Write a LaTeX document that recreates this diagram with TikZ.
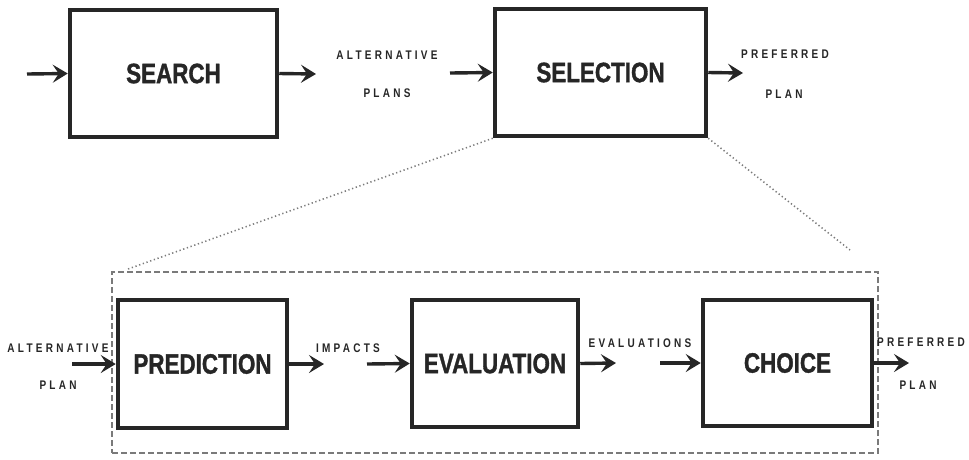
\documentclass[tikz,border=0pt]{standalone}
\usepackage{fontspec}
\usetikzlibrary{arrows.meta}
\newfontfamily\boxfont[FakeStretch=0.8,FakeBold=1.2]{Liberation Sans}
\newfontfamily\labfont[FakeStretch=0.8,LetterSpace=26]{Liberation Sans}
\definecolor{ink}{HTML}{262626}
\definecolor{dotc}{HTML}{7A7A7A}
\begin{document}
\begin{tikzpicture}[x=1pt,y=-1pt,
  blk/.style={draw=ink, line width=4.5pt, inner sep=0pt, text=ink,
    font=\boxfont\bfseries\fontsize{28}{28}\selectfont},
  lab/.style={inner sep=0pt, text=ink, anchor=center,
    font=\labfont\bfseries\fontsize{12.5}{12.5}\selectfont},
  arw/.style={draw=ink, line width=3.4pt, -{Stealth[length=15pt,width=18pt,inset=6pt]}},
  dots/.style={draw=dotc, line width=1.5pt, dash pattern=on 1.3pt off 2.6pt},
  zoomframe/.style={draw=dotc, line width=1.1pt, dash pattern=on 6pt off 3pt, inner sep=0pt}]
\useasboundingbox (0,0) rectangle (969,459);
\fill[white] (0,0) rectangle (969,459);

% top row
\node[blk, minimum width=207pt, minimum height=127pt] (search) at (173.5,73.5) {SEARCH};
\node[blk, minimum width=211pt, minimum height=127pt] (selection) at (600.5,72.5) {SELECTION};

\coordinate (in1) at (27,74);
\coordinate (out1) at (316,74);
\coordinate (in2) at (450,73);
\coordinate (out2) at (743,73);
\draw[arw] (in1) -- (search.west);
\draw[arw] (search.east) -- (out1);
\draw[arw] (in2) -- (selection.west);
\draw[arw] (selection.east) -- (out2);

\node[lab] (altA) at (387,55) {ALTERNATIVE};
\node[lab] (altB) at (387,93) {PLANS};
\node[lab] (prefA) at (785,54) {PREFERRED};
\node[lab] (prefB) at (784,94) {PLAN};

% zoom frame
\node[zoomframe, minimum width=766pt, minimum height=181pt] (frame) at (495,362.5) {};
\coordinate (dl) at (128,269);
\coordinate (dr) at (850,250);
\draw[dots] (selection.south west) -- (dl);
\draw[dots] (selection.south east) -- (dr);

% bottom row
\node[blk, minimum width=169pt, minimum height=128pt] (pred) at (202.5,364) {PREDICTION};
\node[blk, minimum width=166pt, minimum height=127pt] (eval) at (495,363.5) {EVALUATION};
\node[blk, minimum width=169pt, minimum height=126pt] (choice) at (787.5,363) {CHOICE};

\coordinate (b1) at (72,364);
\coordinate (b2) at (324,364);
\coordinate (b3) at (367,364);
\coordinate (b4) at (616,363);
\coordinate (b5) at (660,363);
\coordinate (b6) at (909,363);
\draw[arw] (b1) -- (pred.west);
\draw[arw] (pred.east) -- (b2);
\draw[arw] (b3) -- (eval.west);
\draw[arw] (eval.east) -- (b4);
\draw[arw] (b5) -- (choice.west);
\draw[arw] (choice.east) -- (b6);

\node[lab] (balt) at (58,348) {ALTERNATIVE};
\node[lab] (bplan) at (58,385) {PLAN};
\node[lab] (imp) at (348,348) {IMPACTS};
\node[lab] (evs) at (640,343) {EVALUATIONS};
\node[lab] (bprefA) at (921,342) {PREFERRED};
\node[lab] (bprefB) at (918,385) {PLAN};
\end{tikzpicture}
\end{document}
